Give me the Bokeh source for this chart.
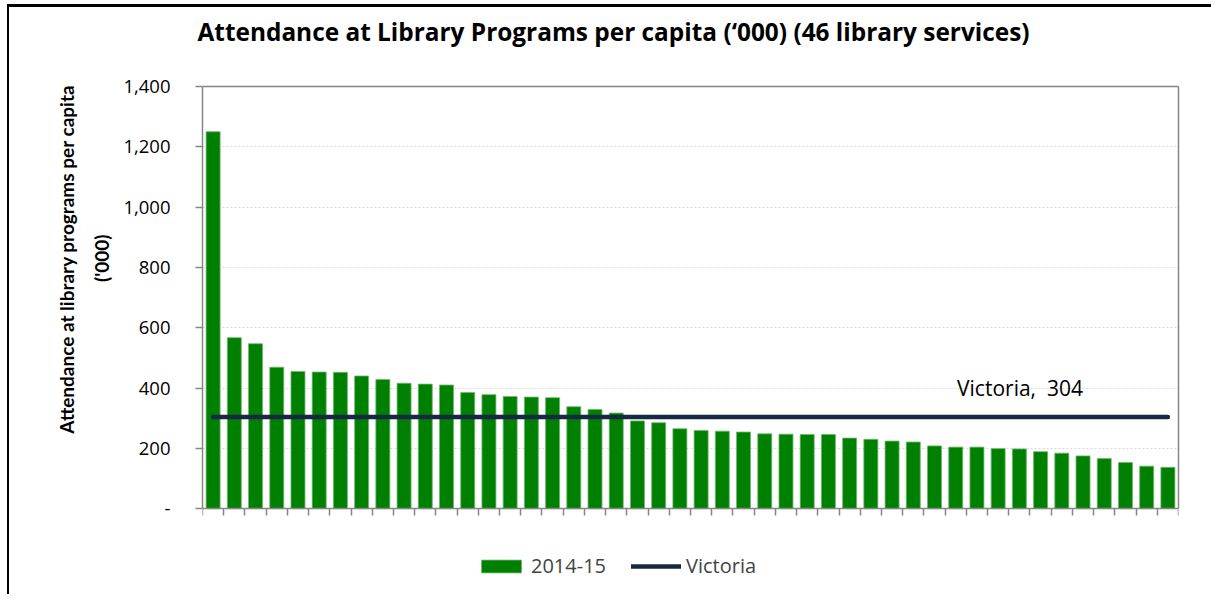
import numpy as np
from bokeh.plotting import figure
from bokeh.models import (Range1d, FixedTicker, Label, Title, LinearAxis,
                          Legend, LegendItem, ColumnDataSource)
from bokeh.embed import file_html
from bokeh.resources import INLINE

# ---------------- data ----------------
title_text = "Attendance at Library Programs per capita (\u2018000) (46 library services)"
y_title_line1 = "Attendance at library programs per capita"
y_title_line2 = "('000)"
series_name = "2014-15"
benchmark_name = "Victoria"

attendance = [1250, 567, 547, 469, 455, 453, 452, 440, 428, 416,
              413, 410, 385, 378, 372, 370, 368, 338, 329, 317,
              291, 285, 265, 259, 257, 254, 248, 247, 246, 246,
              234, 230, 224, 221, 208, 204, 204, 199, 198, 189,
              184, 175, 166, 153, 141, 137]
victoria = 304
services = [f"Service {i + 1}" for i in range(len(attendance))]

y_ticks = [0, 200, 400, 600, 800, 1000, 1200, 1400]
y_tick_labels = ["-", "200", "400", "600", "800", "1,000", "1,200", "1,400"]

FONT = "Open Sans"
GREY = "#868686"
n = len(attendance)
centers = np.arange(n) + 0.5

# plot area: 423 px for 0..1400, plus 72 px below zero for the legend
PX_PLOT, PX_BELOW = 423, 72
y_lo = -PX_BELOW * (y_ticks[-1] - y_ticks[0]) / PX_PLOT

src = ColumnDataSource(dict(x=centers, top=attendance, service=services))

p = figure(width=1204, height=590, output_backend="svg", toolbar_location=None,
           x_range=Range1d(0, n), y_range=Range1d(y_lo, y_ticks[-1]),
           min_border_left=193, min_border_right=35, min_border_top=78,
           min_border_bottom=17, background_fill_color="white",
           border_fill_color="white", title_location=None)
p.styles = {"margin-left": "7px", "margin-top": "4px",
            "border-top": "3px solid black", "border-left": "2px solid black"}
p.outline_line_color = None

bars = p.vbar(x="x", top="top", width=0.66, source=src,
              fill_color="#008000", line_color="#6fb86f", line_width=0.8)
line = p.line(x=[centers[0], centers[-1]], y=[victoria, victoria],
              line_color="#172842", line_width=4.5, line_cap="round")

# y axis
p.yaxis.bounds = (y_ticks[0], y_ticks[-1])
p.yaxis.ticker = FixedTicker(ticks=y_ticks)
p.yaxis.major_label_overrides = {t: l for t, l in zip(y_ticks, y_tick_labels)}
p.yaxis.major_label_text_font = FONT
p.yaxis.major_label_text_font_size = "18.5px"
p.yaxis.major_label_text_color = "black"
p.yaxis.major_label_standoff = 25
p.yaxis.axis_line_color = GREY
p.yaxis.axis_line_width = 1.5
p.yaxis.major_tick_line_color = GREY
p.yaxis.major_tick_line_width = 1.5
p.yaxis.major_tick_out = 7
p.yaxis.major_tick_in = 0
p.yaxis.minor_tick_line_color = None

# x axis sits at y = 0 inside the (extended) frame
p.xaxis.fixed_location = 0
p.xaxis.ticker = FixedTicker(ticks=list(range(n + 1)))
p.xaxis.major_label_overrides = {i: "" for i in range(n + 1)}
p.xaxis.major_label_text_font_size = "0px"
p.xaxis.major_label_standoff = 0
p.xaxis.axis_line_color = GREY
p.xaxis.axis_line_width = 1.5
p.xaxis.major_tick_line_color = GREY
p.xaxis.major_tick_line_width = 1.5
p.xaxis.major_tick_out = 7
p.xaxis.major_tick_in = 0
p.xaxis.minor_tick_line_color = None

p.xgrid.visible = False
p.ygrid.grid_line_color = "#D9D9D9"
p.ygrid.grid_line_dash = "2 2"
p.ygrid.grid_line_width = 1

# right border of plot area
right_border = LinearAxis(bounds=(y_ticks[0], y_ticks[-1]), ticker=FixedTicker(ticks=[0]),
                          axis_line_color=GREY, axis_line_width=1.5,
                          major_tick_line_color=None, minor_tick_line_color=None,
                          major_label_overrides={0: ""}, major_label_text_font_size="0px",
                          major_tick_out=0, major_tick_in=0, major_label_standoff=0)
p.add_layout(right_border, "right")

# top border of plot area + spacer between plot and title
top_border = LinearAxis(ticker=FixedTicker(ticks=[0]), axis_line_color=GREY,
                        axis_line_width=1.5,
                        major_tick_line_color=None, minor_tick_line_color=None,
                        major_label_overrides={0: ""}, major_label_text_font_size="0px",
                        major_tick_out=34, major_tick_in=0, major_label_standoff=0)
p.add_layout(top_border, "above")
p.add_layout(Title(text=title_text, text_font=FONT, text_font_style="bold",
                   text_font_size="24.4px", text_color="black", align="left",
                   offset=-5, standoff=10), "above")

# y-axis title (two lines, outermost added last), anchored at the top
p.add_layout(Title(text=y_title_line2, text_font="Lato", text_font_style="bold",
                   text_font_size="19px", text_color="black", align="right",
                   offset=148, standoff=16), "left")
p.add_layout(Title(text=y_title_line1, text_font="Lato", text_font_style="bold",
                   text_font_size="19px", text_color="black", align="right",
                   offset=-2, standoff=3), "left")

# Victoria label
p.add_layout(Label(x=38.53, y=400, text=f"{benchmark_name},\u00a0 {victoria}",
                   text_align="center", text_baseline="middle",
                   text_font=FONT, text_font_size="21px",
                   text_color="black"))

legend = Legend(items=[LegendItem(label=series_name, renderers=[bars]),
                       LegendItem(label=benchmark_name, renderers=[line])],
                orientation="horizontal", location=(274, 1),
                label_text_font=FONT, label_text_font_size="20px",
                glyph_width=50, glyph_height=16, label_standoff=5,
                spacing=25, padding=0, margin=0, border_line_color=None,
                background_fill_alpha=0)
p.add_layout(legend, "center")

open("out.html", "w").write(file_html(p, INLINE))
